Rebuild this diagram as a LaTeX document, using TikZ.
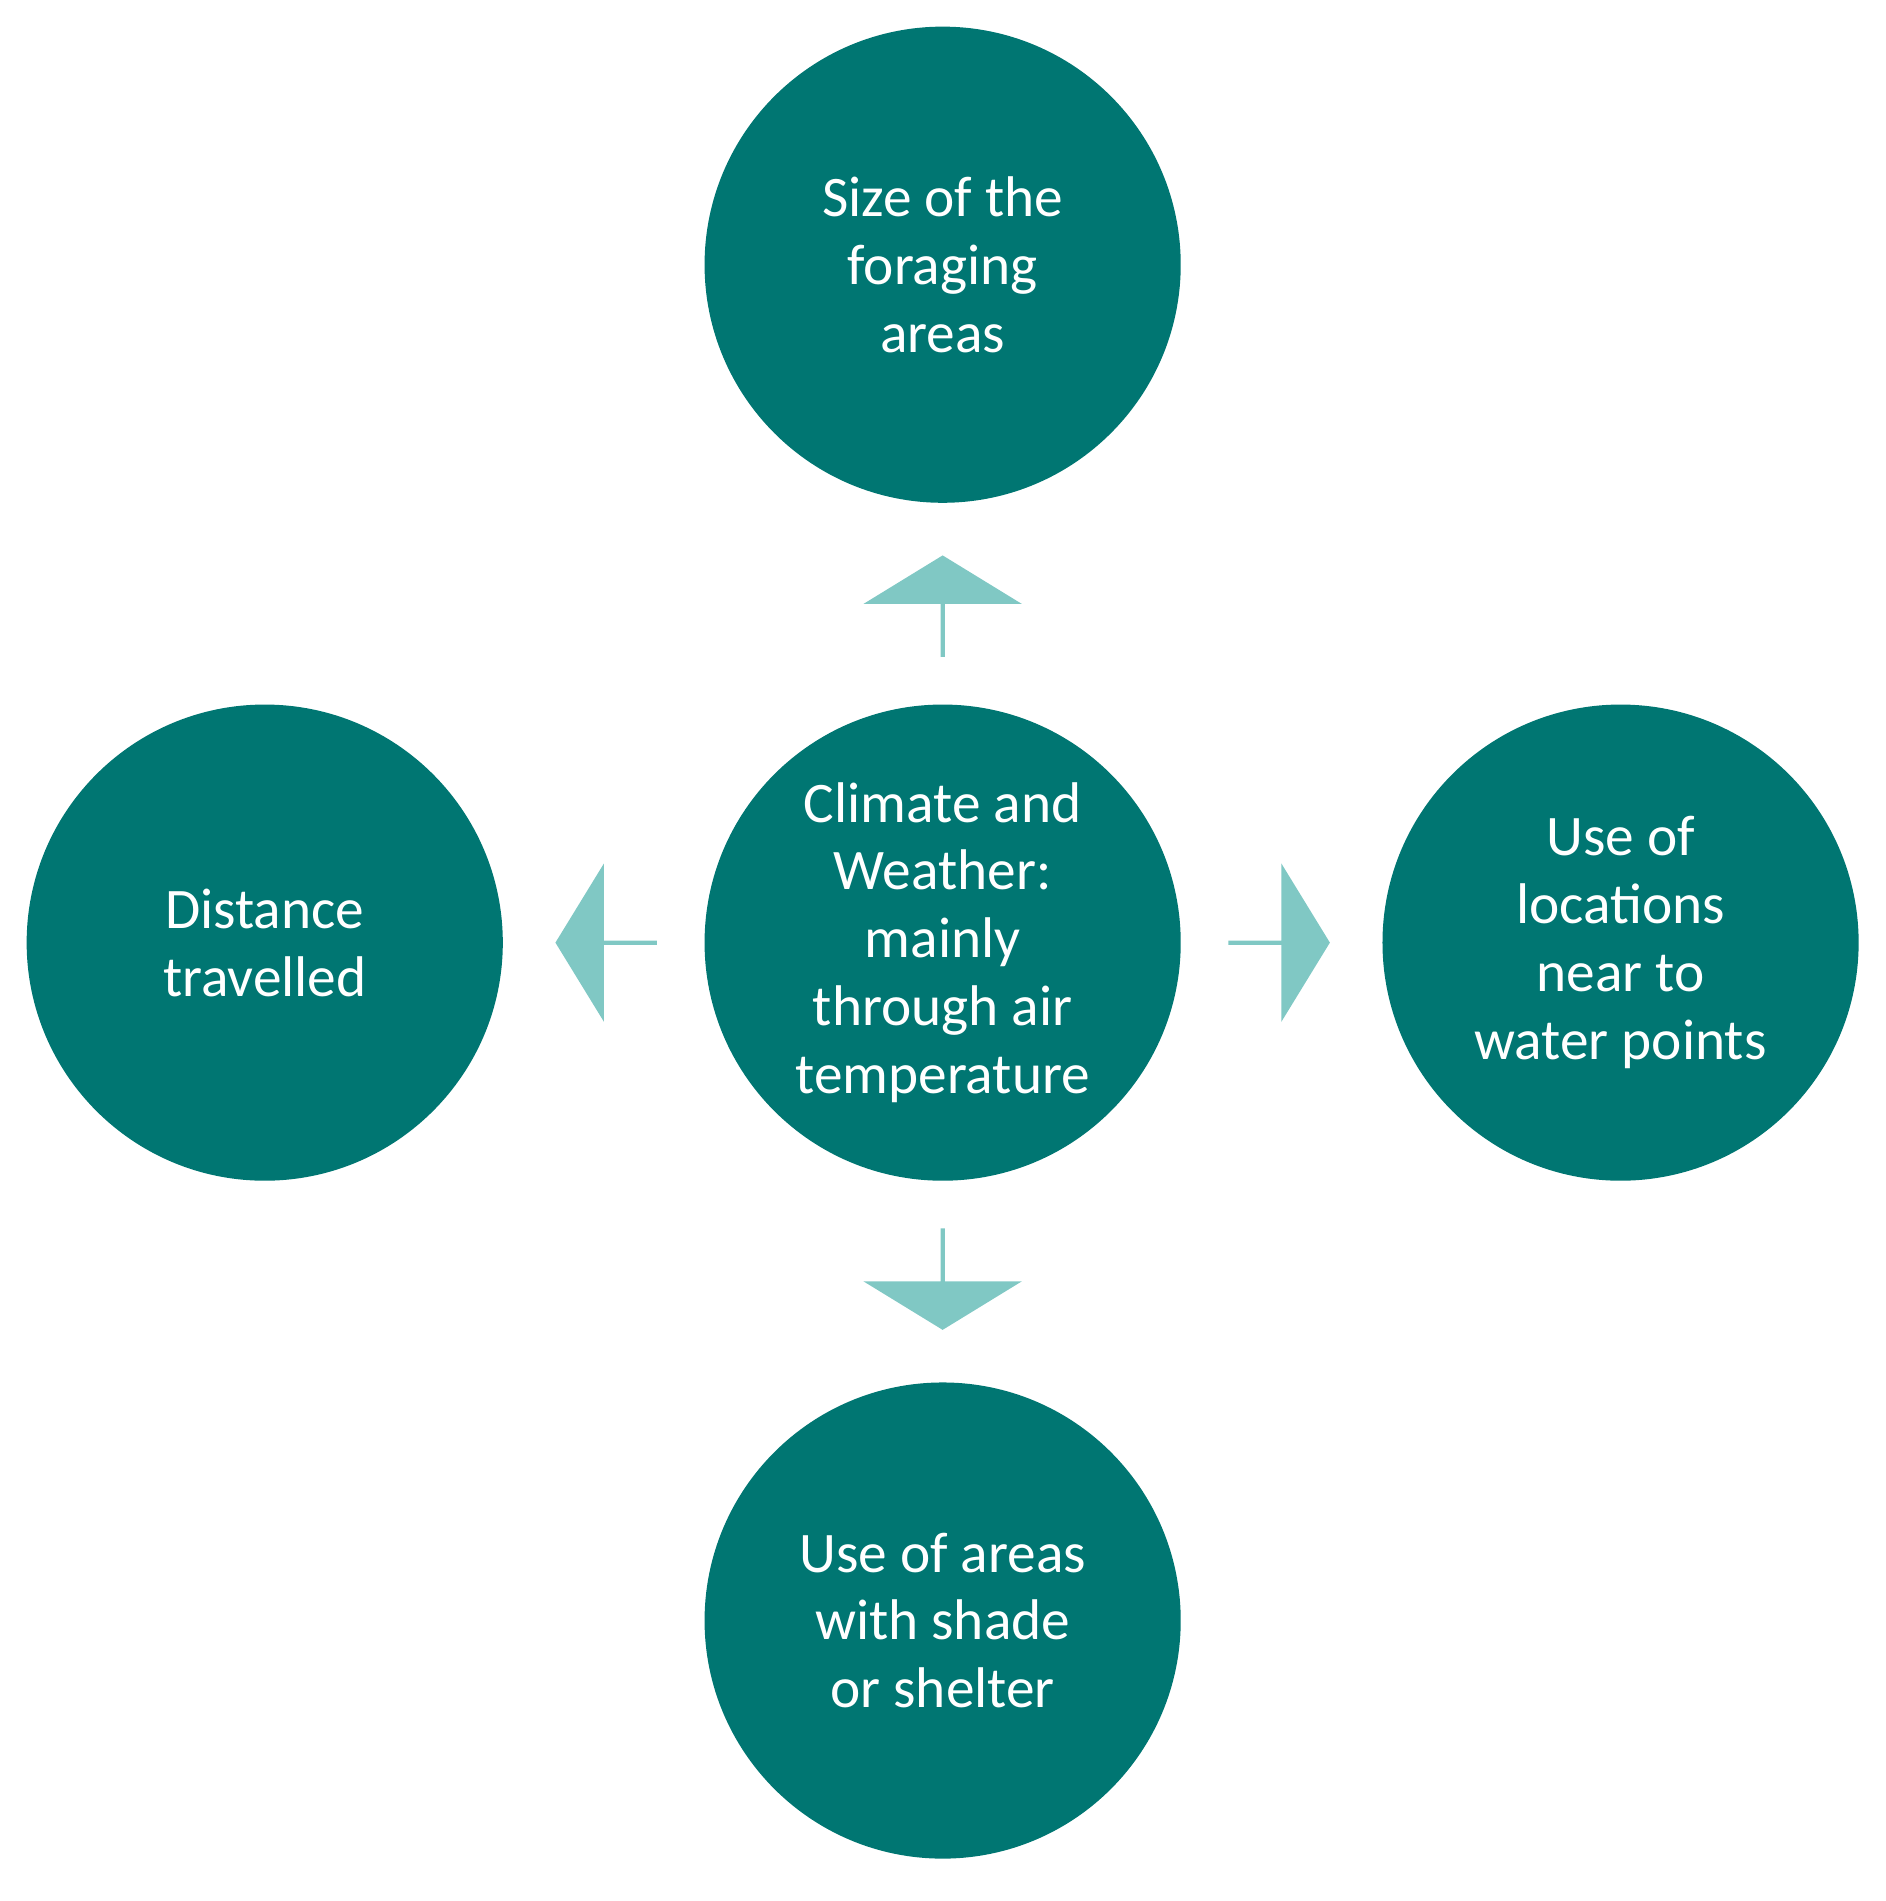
\documentclass[tikz,border=0pt]{standalone}
\usepackage{fontspec}
\setmainfont{Carlito}
\usetikzlibrary{shapes.arrows, positioning}
\definecolor{tealdark}{HTML}{007672}
\definecolor{teallight}{HTML}{80C8C4}

\begin{document}
\begin{tikzpicture}[
node distance=0.42cm,
circ/.style={circle,
fill=tealdark,
minimum size=3.94cm,
inner sep=0pt,
text=white,
align=center,
font=\fontsize{13.5}{16}\selectfont},
fat/.style={single arrow,
fill=teallight,
inner sep=0pt,
minimum height=0.84cm,
minimum width=1.31cm,
single arrow head extend=0.255cm,
single arrow tip angle=117} ]

\useasboundingbox (0,0) rectangle (15.6,15.73);

\node[circ] (centre) at (7.8,7.93) {Climate and\\Weather:\\mainly\\through air\\temperature};

\node[fat, shape border rotate=90, above=0.38cm of centre.north, anchor=south] (arr-up) {};
\node[fat, shape border rotate=270, below=0.38cm of centre.south, anchor=north] (arr-down) {};
\node[fat, shape border rotate=180, left=0.38cm of centre.west, anchor=east] (arr-left) {};
\node[fat, right=0.38cm of centre.east, anchor=west] (arr-right) {};

\node[circ, above=of arr-up] (forage) {Size of the\\foraging\\areas};
\node[circ, below=of arr-down] (shade) {Use of areas\\with shade\\or shelter};
\node[circ, left=of arr-left] (distance) {Distance\\travelled};
\node[circ, right=of arr-right] (water) {Use of\\locations\\near to\\water points};

\end{tikzpicture}
\end{document}
